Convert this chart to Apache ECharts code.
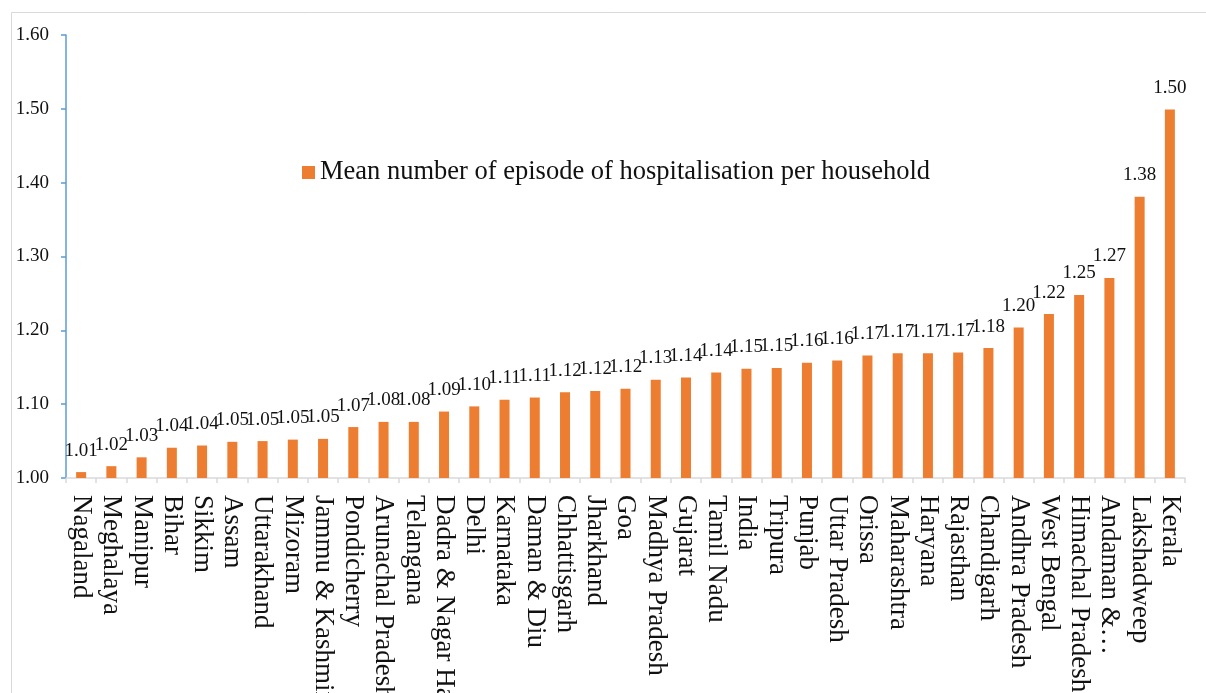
<!DOCTYPE html>
<html>
<head>
<meta charset="utf-8">
<title>Mean number of episode of hospitalisation per household</title>
<script src="https://cdn.jsdelivr.net/npm/echarts@6/dist/echarts.min.js"></script>
<style>
  html, body { margin: 0; padding: 0; background: #ffffff; }
  #chart { width: 1206px; height: 693px; }
</style>
</head>
<body>
<div id="chart"></div>
<script>
// States / UTs, sorted by mean episodes of hospitalisation
const states = [
  'Nagaland', 'Meghalaya', 'Manipur', 'Bihar', 'Sikkim', 'Assam', 'Uttarakhand',
  'Mizoram', 'Jammu & Kashmir', 'Pondicherry', 'Arunachal Pradesh', 'Telangana',
  'Dadra & Nagar Haveli', 'Delhi', 'Karnataka', 'Daman & Diu', 'Chhattisgarh',
  'Jharkhand', 'Goa', 'Madhya Pradesh', 'Gujarat', 'Tamil Nadu', 'India', 'Tripura',
  'Punjab', 'Uttar Pradesh', 'Orissa', 'Maharashtra', 'Haryana', 'Rajasthan',
  'Chandigarh', 'Andhra Pradesh', 'West Bengal', 'Himachal Pradesh', 'Andaman &…',
  'Lakshadweep', 'Kerala'
];

// Mean number of episodes of hospitalisation per household
const meanEpisodes = [
  1.008, 1.016, 1.028, 1.041, 1.044, 1.049, 1.050,
  1.052, 1.053, 1.069, 1.076, 1.076,
  1.090, 1.097, 1.106, 1.109, 1.116,
  1.118, 1.121, 1.133, 1.136, 1.143, 1.148, 1.149,
  1.156, 1.159, 1.166, 1.169, 1.169, 1.170,
  1.176, 1.204, 1.222, 1.248, 1.271,
  1.381, 1.499
];

const seriesName = 'Mean number of episode of hospitalisation per household';

// Value axis settings
const yMin = 1.0;
const yMax = 1.6;
const yStep = 0.1;

const FONT = '"Liberation Serif", "DejaVu Serif", serif';

const chart = echarts.init(document.getElementById('chart'), null, { renderer: 'canvas' });

chart.setOption({
  backgroundColor: '#ffffff',
  animation: false,
  textStyle: { fontFamily: FONT, color: '#111111' },
  graphic: [{
    type: 'rect',
    silent: true,
    z: -10,
    shape: { x: 11.5, y: 12.5, width: 1400, height: 900 },
    style: { fill: 'none', stroke: '#d9d9d9', lineWidth: 1 }
  }],
  legend: {
    data: [seriesName],
    left: 297,
    top: 154,
    icon: 'rect',
    itemWidth: 13,
    itemHeight: 13,
    textStyle: { fontFamily: FONT, fontSize: 26.5, color: '#111111' }
  },
  grid: {
    left: 66,
    right: 21,
    top: 35,
    bottom: 215,
    containLabel: false,
    outerBoundsMode: 'none'
  },
  xAxis: {
    type: 'category',
    data: states,
    boundaryGap: true,
    axisLine: { show: true, lineStyle: { color: '#d9d9d9', width: 1.5 } },
    axisTick: { show: true, alignWithLabel: false, length: 5, lineStyle: { color: '#d9d9d9', width: 1.5 } },
    axisLabel: {
      interval: 0,
      rotate: -90,
      margin: 17,
      fontFamily: FONT,
      fontSize: 27,
      color: '#111111'
    },
    splitLine: { show: false }
  },
  yAxis: {
    type: 'value',
    min: yMin,
    max: yMax,
    interval: yStep,
    axisLine: { show: true, lineStyle: { color: '#5b9bd5', width: 1.5 } },
    axisTick: { show: true, inside: false, length: 5, lineStyle: { color: '#5b9bd5', width: 1.5 } },
    axisLabel: {
      margin: 17,
      fontFamily: FONT,
      fontSize: 19,
      color: '#111111',
      formatter: v => v.toFixed(2)
    },
    splitLine: { show: false }
  },
  series: [{
    name: seriesName,
    type: 'bar',
    data: meanEpisodes,
    barWidth: 10,
    itemStyle: { color: '#ed7d31' },
    label: {
      show: true,
      position: 'top',
      distance: 12,
      fontFamily: FONT,
      fontSize: 19,
      color: '#111111',
      formatter: p => p.value.toFixed(2)
    }
  }]
});
</script>
</body>
</html>
